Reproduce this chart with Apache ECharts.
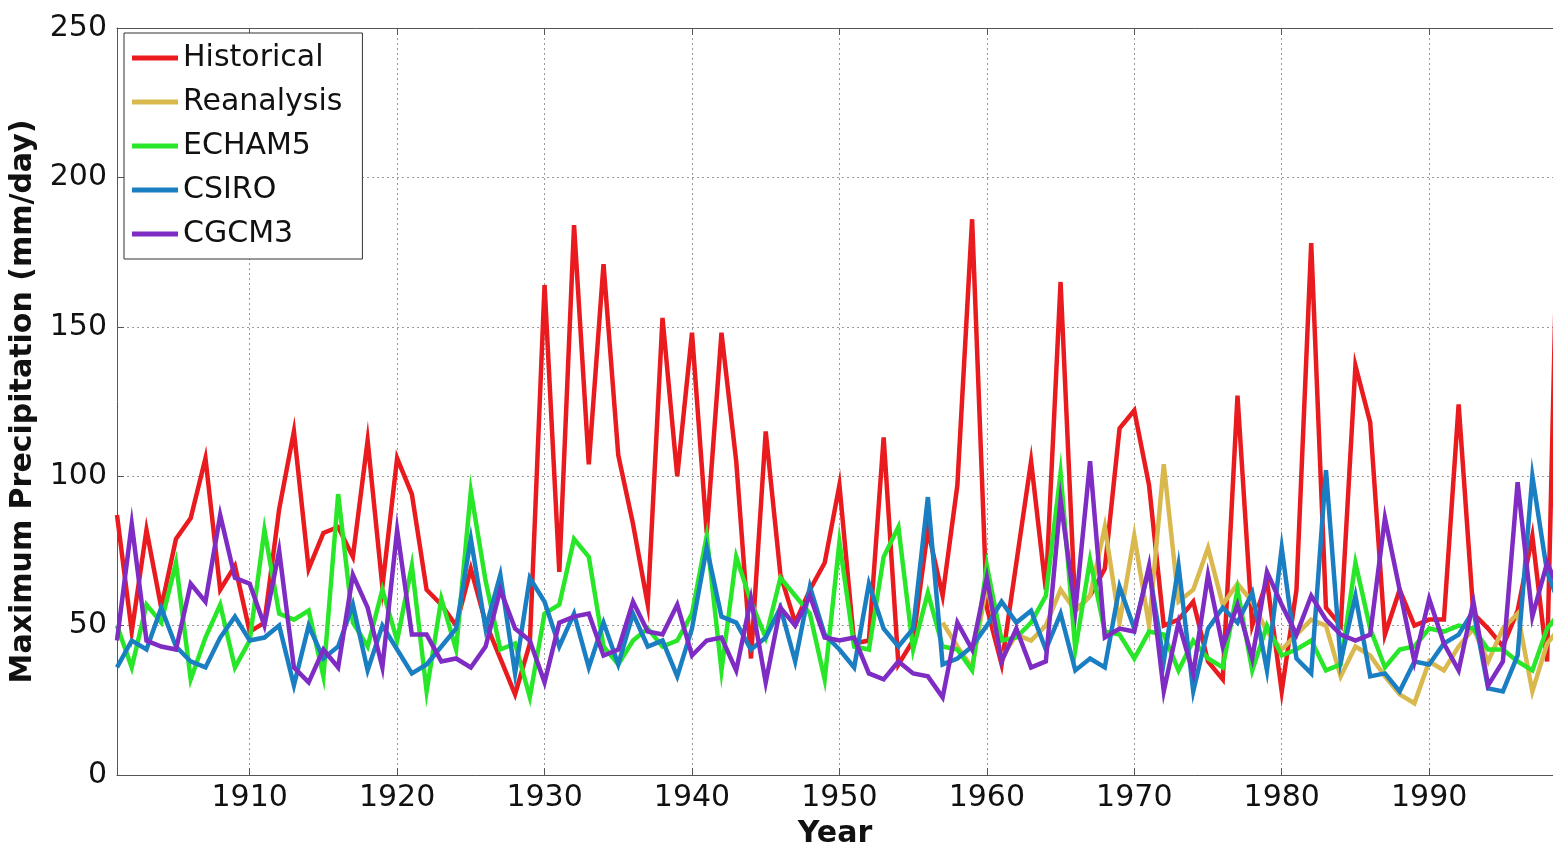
<!DOCTYPE html>
<html>
<head>
<meta charset="utf-8">
<title>Maximum Precipitation</title>
<script src="https://cdn.jsdelivr.net/npm/echarts@6/dist/echarts.min.js"></script>
<style>
  html, body { margin: 0; padding: 0; background: #fff; }
  #chart { width: 1553px; height: 854px; }
</style>
</head>
<body>
<div id="chart"></div>
<script>
// Annual maximum daily precipitation (mm/day), 1901-1999
const firstYear = 1901;

const historical = [
  87, 48, 82, 56, 79, 86, 106, 62, 70, 48,
  51, 89, 115, 69, 81, 83, 73, 112, 63, 106,
  94, 62, 57, 50, 69, 51, 39, 27, 44, 164,
  68, 184, 104, 171, 107, 84, 57, 153, 100, 148,
  81, 148, 105, 39, 115, 67, 51, 62, 71, 97,
  44, 45, 113, 37, 45, 82, 60, 97, 186, 56,
  37, 71, 105, 62, 165, 55, 60, 69, 116, 122,
  97, 50, 52, 58, 38, 32, 127, 50, 65, 28,
  62, 178, 56, 50, 137, 118, 47, 62, 50, 52,
  52, 124, 54, 49, 43, 55, 80, 38, 250
];

// Reanalysis record begins in 1957
const reanalysisStart = 1957;
const reanalysis = [
  51, 43, 36, 64, 39, 47, 45, 50, 62, 55,
  60, 83, 51, 80, 50, 104, 58, 62, 76, 57,
  64, 58, 48, 42, 47, 52, 50, 33, 43, 40,
  33, 27, 24, 38, 35, 43, 49, 38, 49, 54,
  28, 44, 50
];

const echam5 = [
  50, 36, 57, 51, 71, 32, 46, 57, 36, 45,
  82, 54, 52, 55, 33, 94, 51, 43, 62, 45,
  70, 28, 59, 42, 95, 65, 42, 44, 26, 54,
  57, 79, 73, 43, 37, 45, 49, 43, 45, 54,
  80, 35, 73, 58, 46, 66, 60, 54, 32, 78,
  43, 42, 73, 83, 42, 61, 43, 42, 35, 70,
  45, 46, 51, 60, 101, 42, 72, 48, 47, 39,
  48, 47, 35, 45, 39, 36, 62, 35, 50, 40,
  42, 45, 35, 37, 71, 49, 36, 42, 43, 49,
  48, 50, 49, 42, 42, 38, 35, 49, 55
];

const csiro = [
  36, 45, 42, 56, 43, 38, 36, 46, 53, 45,
  46, 50, 30, 50, 39, 43, 57, 35, 50, 42,
  34, 37, 43, 49, 79, 49, 67, 34, 66, 58,
  43, 54, 36, 51, 37, 54, 43, 45, 33, 49,
  76, 53, 51, 42, 46, 56, 38, 63, 47, 42,
  36, 64, 49, 43, 49, 93, 37, 39, 43, 50,
  58, 51, 55, 42, 54, 35, 39, 36, 63, 49,
  69, 38, 70, 28, 49, 56, 51, 61, 35, 76,
  39, 34, 102, 38, 60, 33, 34, 28, 38, 37,
  44, 47, 55, 29, 28, 40, 100, 68, 55
];

const cgcm3 = [
  45, 84, 45, 43, 42, 64, 58, 87, 66, 64,
  50, 75, 36, 31, 42, 36, 67, 56, 36, 82,
  47, 47, 38, 39, 36, 43, 62, 49, 45, 31,
  51, 53, 54, 40, 42, 58, 48, 47, 57, 40,
  45, 46, 35, 59, 31, 56, 50, 60, 46, 45,
  46, 34, 32, 38, 34, 33, 26, 51, 42, 66,
  38, 49, 36, 38, 92, 55, 105, 46, 49, 48,
  70, 28, 51, 34, 67, 43, 57, 39, 68, 57,
  47, 60, 52, 47, 45, 47, 86, 62, 38, 59,
  44, 35, 58, 30, 38, 98, 53, 71, 60
];

const yearTicks = [1910, 1920, 1930, 1940, 1950, 1960, 1970, 1980, 1990];
// visible end of the year axis
const yearAxisEnd = 1998.4;

function pairs(startYear, values) {
  return values.map((v, i) => [startYear + i, v]);
}

const seriesDefs = [
  { name: 'Historical',  color: '#EA1B1F', data: pairs(firstYear, historical) },
  { name: 'Reanalysis',  color: '#D9B94E', data: pairs(reanalysisStart, reanalysis) },
  { name: 'ECHAM5',      color: '#28E628', data: pairs(firstYear, echam5) },
  { name: 'CSIRO',       color: '#1A7EC2', data: pairs(firstYear, csiro) },
  { name: 'CGCM3',       color: '#7E2CC3', data: pairs(firstYear, cgcm3) }
];

const font = 'DejaVu Sans';
const frameColor = '#555';
const gridDots = { color: '#9a9a9a', width: 1, type: [2, 3] };

const chart = echarts.init(document.getElementById('chart'), null, { renderer: 'canvas' });

chart.setOption({
  animation: false,
  backgroundColor: '#ffffff',
  grid: {
    left: 117,
    top: 28,
    right: 0,
    height: 753,
    show: false
  },
  legend: {
    orient: 'vertical',
    left: 124,
    top: 33,
    padding: [8, 20, 8, 8],
    itemGap: 10,
    itemWidth: 46,
    itemHeight: 5,
    icon: 'rect',
    backgroundColor: '#ffffff',
    borderColor: '#333',
    borderWidth: 1,
    borderRadius: 0,
    textStyle: { fontFamily: font, fontSize: 30, color: '#111', lineHeight: 34 },
    data: seriesDefs.map(s => s.name)
  },
  xAxis: [
    {
      type: 'value',
      min: firstYear,
      max: yearAxisEnd,
      position: 'bottom',
      name: 'Year',
      nameLocation: 'middle',
      nameGap: 44,
      nameTextStyle: { fontFamily: font, fontSize: 30, fontWeight: 'bold', color: '#111' },
      axisLine: { show: true, lineStyle: { color: frameColor, width: 1 } },
      axisTick: { show: true, inside: true, length: 7, customValues: yearTicks, lineStyle: { color: frameColor } },
      axisLabel: {
        customValues: yearTicks,
        formatter: v => String(Math.round(v)),
        fontFamily: font, fontSize: 30, color: '#111', margin: 8
      },
      splitLine: { show: true, lineStyle: gridDots }
    },
    {
      type: 'value',
      min: firstYear,
      max: yearAxisEnd,
      position: 'top',
      axisLine: { show: true, lineStyle: { color: frameColor, width: 1 } },
      axisTick: { show: true, inside: true, length: 7, customValues: yearTicks, lineStyle: { color: frameColor } },
      axisLabel: { show: false },
      splitLine: { show: false }
    }
  ],
  yAxis: {
    type: 'value',
    min: 0,
    max: 250,
    interval: 50,
    name: 'Maximum Precipitation (mm/day)',
    nameLocation: 'middle',
    nameGap: 79,
    nameTextStyle: { fontFamily: font, fontSize: 30, fontWeight: 'bold', color: '#111' },
    axisLine: { show: true, lineStyle: { color: frameColor, width: 1 } },
    axisTick: { show: true, inside: true, length: 7, lineStyle: { color: frameColor } },
    axisLabel: { fontFamily: font, fontSize: 30, color: '#111', margin: 10 },
    splitLine: { show: true, lineStyle: gridDots }
  },
  series: seriesDefs.map(s => ({
    name: s.name,
    type: 'line',
    xAxisIndex: 0,
    data: s.data,
    showSymbol: false,
    symbol: 'none',
    clip: true,
    color: s.color,
    lineStyle: { color: s.color, width: 4.5, join: 'miter' },
    emphasis: { disabled: true }
  }))
});
</script>
</body>
</html>
